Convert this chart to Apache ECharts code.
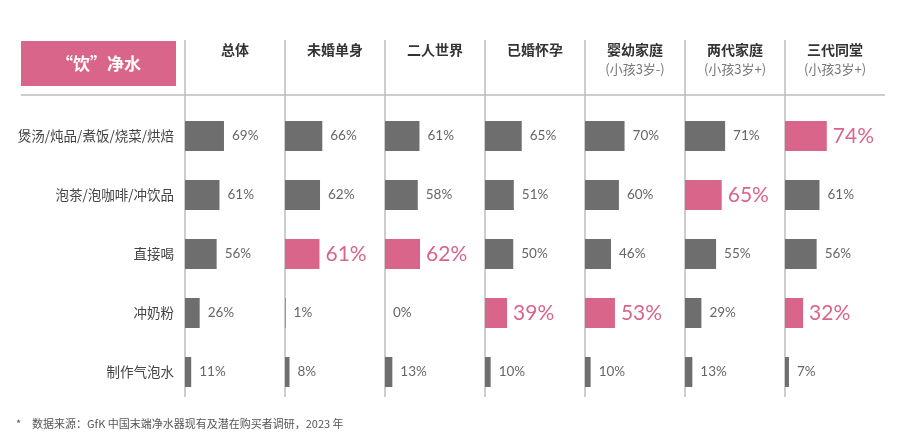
<!DOCTYPE html>
<html><head><meta charset="utf-8">
<script src="https://cdn.jsdelivr.net/npm/echarts@6/dist/echarts.min.js"></script>
<style>html,body{margin:0;padding:0;background:#fff}#c{width:898px;height:448px}</style>
</head><body><div id="c"></div>
<script>
const categories = ['煲汤/炖品/煮饭/烧菜/烘焙','泡茶/泡咖啡/冲饮品','直接喝','冲奶粉','制作气泡水'];
const groups = ['总体','未婚单身','二人世界','已婚怀孕','婴幼家庭','两代家庭','三代同堂'];
const groupSub = ['','','','','(小孩3岁-)','(小孩3岁+)','(小孩3岁+)'];
const vTotal   = [69,61,56,26,11];
const vSingle  = [66,62,61,1,8];
const vCouple  = [61,58,62,0,13];
const vPregnant= [65,51,50,39,10];
const vInfant  = [70,60,46,53,10];
const vTwoGen  = [71,65,55,29,13];
const vThreeGen= [74,61,56,32,7];
const highlights = [[],[2],[2],[3],[3],[1],[0,3]];
const values = [vTotal,vSingle,vCouple,vPregnant,vInfant,vTwoGen,vThreeGen];

const GRAY='#6e6e6e', PINK='#d9668a', LINE='#bdbdbd';
const COL0=185, COLW=100, TOP=106.5, H=295;
const FONT="Lato, 'Noto Sans CJK SC', sans-serif";
const CJK="'Noto Sans CJK SC', sans-serif";

const grid=[],xAxis=[],yAxis=[],series=[],graphic=[];
groups.forEach((g,i)=>{
  grid.push({left:COL0+i*COLW, top:TOP, width:56.5, height:H});
  xAxis.push({gridIndex:i,type:'value',min:0,max:100,show:false});
  yAxis.push({gridIndex:i,type:'category',data:categories,inverse:true,
    axisLine:{show:false},axisTick:{show:false},
    axisLabel:{show:i===0,margin:11,fontSize:13.5,color:'#444',fontFamily:CJK}});
  series.push({type:'bar',xAxisIndex:i,yAxisIndex:i,barWidth:30,silent:true,
    data:values[i].map((v,k)=>{
      const hl=highlights[i].includes(k);
      return {value:v,itemStyle:{color:hl?PINK:GRAY},
        label:{show:true,position:'right',distance:hl?6:8,formatter:'{c}%',
          fontFamily:FONT,fontSize:hl?21:13.5,color:hl?PINK:'#666'}};
    })});
  const cx=COL0+i*COLW+COLW/2;
  graphic.push({type:'line',shape:{x1:COL0+i*COLW,y1:40,x2:COL0+i*COLW,y2:397},style:{stroke:LINE,lineWidth:1.5},z:1});
  graphic.push({type:'text',x:cx,y:50,style:{text:g,fill:'#333',font:'bold 14px '+CJK,textAlign:'center',textVerticalAlign:'middle'}});
  if(groupSub[i]) graphic.push({type:'text',x:cx,y:69,style:{text:groupSub[i],fill:'#777',font:'13px '+CJK,textAlign:'center',textVerticalAlign:'middle'}});
});
graphic.push({type:'rect',shape:{x:21,y:41,width:155,height:45},style:{fill:PINK}});
graphic.push({type:'text',x:98.5,y:63.5,style:{text:'“饮”净水',fill:'#fff',font:'bold 17px '+CJK,textAlign:'center',textVerticalAlign:'middle'}});
graphic.push({type:'line',shape:{x1:21,y1:95,x2:885,y2:95},style:{stroke:LINE,lineWidth:1.5}});
graphic.push({type:'text',x:16,y:424,style:{text:'*',fill:'#555',font:'11px '+CJK,textVerticalAlign:'middle'}});
graphic.push({type:'text',x:32,y:424,style:{text:'数据来源：GfK 中国末端净水器现有及潜在购买者调研，2023 年',fill:'#555',font:'11px '+CJK,textVerticalAlign:'middle'}});

const chart=echarts.init(document.getElementById('c'));
chart.setOption({animation:false,grid,xAxis,yAxis,series,graphic});
</script></body></html>
